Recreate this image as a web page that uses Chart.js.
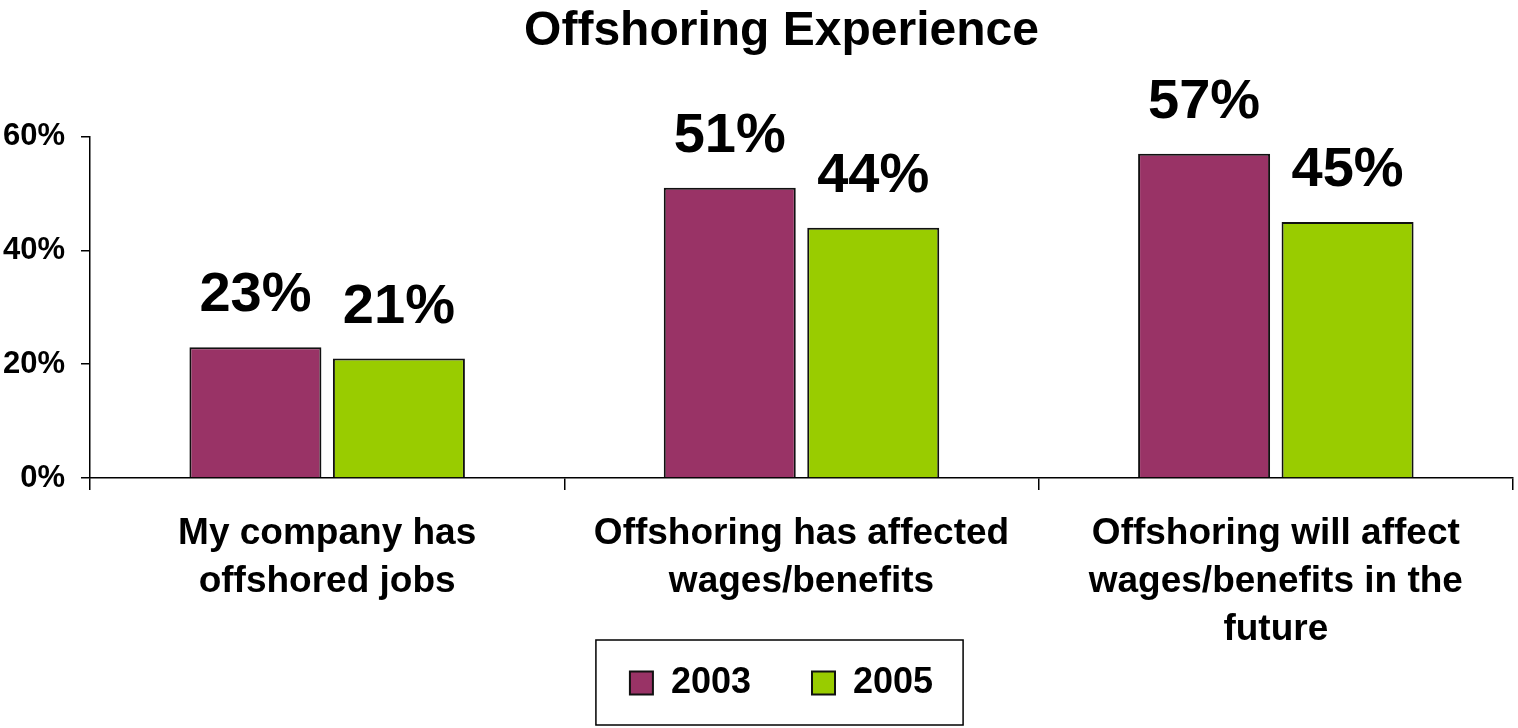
<!DOCTYPE html>
<html>
<head>
<meta charset="utf-8">
<title>Offshoring Experience</title>
<script src="https://cdn.jsdelivr.net/npm/chart.js@4.4.1/dist/chart.umd.min.js"></script>
<style>
  html, body { margin: 0; padding: 0; background: #fff; }
  #wrap { width: 1518px; height: 728px; }
</style>
</head>
<body>
<div id="wrap"><canvas id="chart" width="1518" height="728"></canvas></div>
<script>
// data
const categories = [
    ["My company has", "offshored jobs"],
    ["Offshoring has affected", "wages/benefits"],
    ["Offshoring will affect", "wages/benefits in the", "future"]
];
const seriesNames = ["2003", "2005"];
const values2003 = [23, 51, 57];
const values2005 = [21, 44, 45];
const yMax = 60;
const yStep = 20;

const FONT = '"Liberation Sans", Arial, sans-serif';

// big value labels above each bar
const valueLabels = {
    id: "valueLabels",
    afterDatasetsDraw(chart) {
        const ctx = chart.ctx;
        ctx.save();
        ctx.font = "bold 56px " + FONT;
        ctx.fillStyle = "#000";
        ctx.textAlign = "center";
        ctx.textBaseline = "alphabetic";
        chart.data.datasets.forEach((ds, i) => {
            chart.getDatasetMeta(i).data.forEach((bar, j) => {
                ctx.fillText(ds.data[j] + "%", bar.x, bar.y - 36);
            });
        });
        ctx.restore();
    }
};

// frame round the legend
const legendFrame = {
    id: "legendFrame",
    afterDraw(chart) {
        const boxes = chart.legend.legendHitBoxes;
        if (!boxes || !boxes.length) return;
        const first = boxes[0];
        const last = boxes[boxes.length - 1];
        const cy = first.top + first.height / 2;
        const ctx = chart.ctx;
        ctx.save();
        ctx.strokeStyle = "#000";
        ctx.lineWidth = 1.5;
        const left = first.left - 34;
        const right = last.left + last.width + 30;
        ctx.strokeRect(left, cy - 43, right - left, 85);
        ctx.restore();
    }
};

// axes are squeezed with afterFit, so let their labels spill out of the box
function noLabelClip(scale) {
    scale._computeLabelArea = () => undefined;
}

const ctx = document.getElementById("chart").getContext("2d");

new Chart(ctx, {
    type: "bar",
    data: {
        labels: categories,
        datasets: [
            {
                label: seriesNames[0],
                data: values2003,
                backgroundColor: "#993366",
                borderColor: "#111",
                borderWidth: 2
            },
            {
                label: seriesNames[1],
                data: values2005,
                backgroundColor: "#99CC00",
                borderColor: "#111",
                borderWidth: 2
            }
        ]
    },
    options: {
        responsive: false,
        animation: false,
        categoryPercentage: 0.605,
        barPercentage: 0.92,
        layout: { padding: { left: 50, right: 5, top: 0, bottom: 17 } },
        plugins: {
            title: {
                display: true,
                text: "Offshoring Experience",
                color: "#000",
                font: { family: FONT, size: 48, weight: "bold", lineHeight: 1.2 },
                padding: { top: 3, bottom: 76 }
            },
            legend: {
                position: "bottom",
                labels: {
                    color: "#000",
                    font: { family: FONT, size: 36, weight: "bold" },
                    boxWidth: 23,
                    boxHeight: 23,
                    padding: 61
                }
            },
            tooltip: { enabled: false }
        },
        scales: {
            x: {
                offset: true,
                grid: {
                    offset: true,
                    drawOnChartArea: false,
                    drawTicks: true,
                    tickLength: 12,
                    color: "#000",
                    lineWidth: 1.5
                },
                border: { display: true, color: "#000", width: 1.5 },
                ticks: {
                    color: "#000",
                    font: { family: FONT, size: 37, weight: "bold", lineHeight: 1.3 },
                    padding: 20,
                    maxRotation: 0,
                    autoSkip: false
                },
                afterFit(scale) {
                    scale.height = 126;
                    noLabelClip(scale);
                }
            },
            y: {
                min: 0,
                max: yMax,
                ticks: {
                    stepSize: yStep,
                    callback: v => v + "%",
                    color: "#000",
                    font: { family: FONT, size: 31, weight: "bold" },
                    padding: 16
                },
                grid: {
                    drawOnChartArea: false,
                    drawTicks: true,
                    tickLength: 9,
                    color: "#000",
                    lineWidth: 1.5
                },
                border: { display: true, color: "#000", width: 1.5 },
                afterFit(scale) {
                    scale.width = 40;
                    noLabelClip(scale);
                }
            }
        }
    },
    plugins: [valueLabels, legendFrame]
});
</script>
</body>
</html>
